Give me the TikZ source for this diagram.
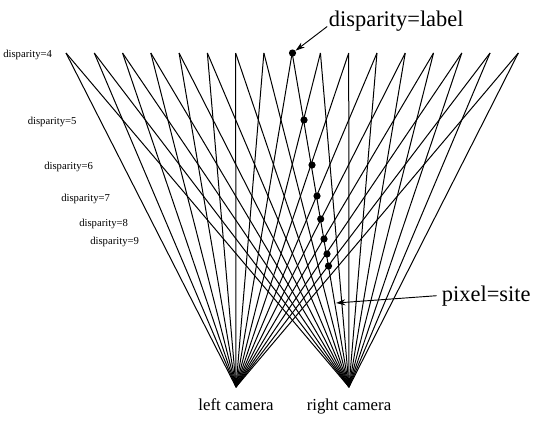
\documentclass[tikz,border=0pt]{standalone}
\usepackage{fontspec}
\setmainfont{Liberation Serif}
\usetikzlibrary{arrows.meta}

\begin{document}
\begin{tikzpicture}[
				x=0.75pt, y=-0.75pt,
				ray/.style={draw=black, line width=0.75pt},
				pick/.style={circle, fill=black, inner sep=0pt, minimum size=5.4pt},
				level/.style={anchor=base west, inner sep=0pt, font=\fontsize{8}{9}\selectfont},
				camera/.style={anchor=base, inner sep=0pt, font=\fontsize{12.6}{14}\selectfont},
				callout/.style={anchor=base west, inner sep=0pt, font=\fontsize{16.8}{20}\selectfont},
				pointer/.style={draw=black, line width=0.7pt, -{Stealth[length=7pt, width=4.5pt]}}
			]
			\useasboundingbox (0,0) rectangle (538,425);

			% Cameras
			\coordinate (lcam) at (236,387);
			\coordinate (rcam) at (349,387);
			\node[camera] (lname) at (236,410.5) {left camera};
			\node[camera] (rname) at (349,410.5) {right camera};

			% Rays from the top row to both cameras
			\foreach \i in {0,...,16} {
				\coordinate (top\i) at ({66+\i*28.27},53);
				\draw[ray] (lcam) -- (top\i);
				\draw[ray] (rcam) -- (top\i);
			}

			% Disparity levels
			\node[level] (l4) at (3,57) {disparity=4};
			\node[level] (l5) at (27.5,124) {disparity=5};
			\node[level] (l6) at (44,169) {disparity=6};
			\node[level] (l7) at (61,201) {disparity=7};
			\node[level] (l8) at (79,226) {disparity=8};
			\node[level] (l9) at (90,244) {disparity=9};

			% Sites on one ray
			\node[pick] (d4) at (292.5,53) {};
			\node[pick] (d5) at (304,120) {};
			\node[pick] (d6) at (312,165) {};
			\node[pick] (d7) at (317,196) {};
			\node[pick] (d8) at (320.7,219) {};
			\node[pick] (d9) at (324,239) {};
			\node[pick] (d10) at (327,254) {};
			\node[pick] (d11) at (328.5,266) {};

			% Callouts
			\node[callout] (label) at (328.7,26.5) {disparity=label};
			\node[callout] (site) at (441.7,301.7) {pixel=site};
			\coordinate (siteend) at (336,303);
			\draw[pointer] ([shift={(-1.5,0)}]label.base west) -- (d4);
			\draw[pointer] ([shift={(-5,-6)}]site.base west) -- (siteend);

		\end{tikzpicture}
\end{document}
